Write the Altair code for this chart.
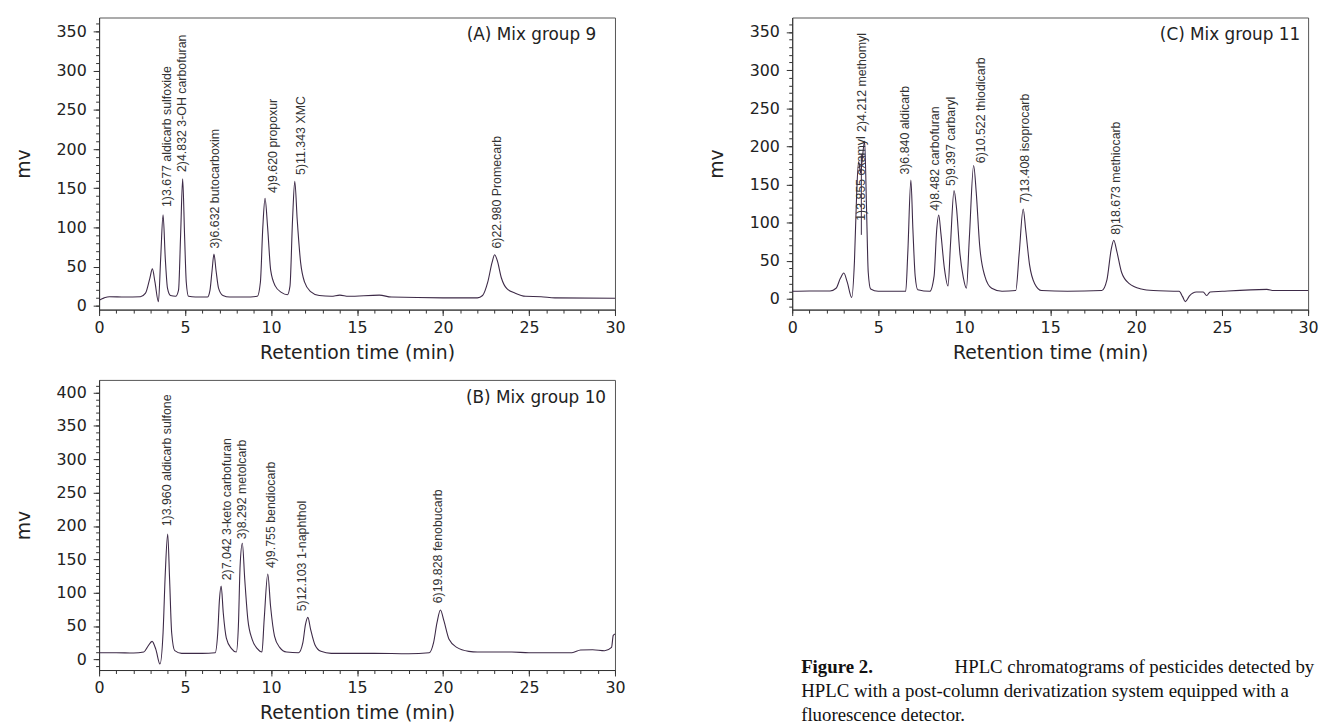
import altair as alt
import pandas as pd

# ---------------- data ----------------
# Panel A : Mix group 9
a_t = [0.0, 0.3, 0.6, 1.5, 2.4, 2.7, 2.95, 3.1, 3.25, 3.45, 3.58, 3.72, 3.85, 3.98, 4.15,
       4.45, 4.62, 4.74, 4.86, 4.97, 5.07, 5.2, 5.6, 6.3, 6.45, 6.57, 6.68, 6.8, 6.95, 7.2,
       7.6, 8.5, 9.2, 9.38, 9.52, 9.65, 9.8, 9.98, 10.25, 10.6, 10.95, 11.1, 11.25, 11.38,
       11.52, 11.72, 11.95, 12.3, 12.8, 13.5, 14.0, 14.5, 16.3, 17.0, 20.0, 22.0, 22.3, 22.6,
       22.85, 23.0, 23.15, 23.4, 23.7, 24.2, 24.8, 25.7, 26.5, 30.0]
a_mv = [7, 10, 11.5, 11, 11.5, 16, 35, 47, 30, 5, 60, 116, 60, 22, 13,
        12, 20, 90, 162, 90, 30, 12, 11, 11, 20, 45, 66, 45, 22, 13,
        11, 11, 12, 30, 100, 137, 100, 45, 25, 17, 14, 25, 110, 159,
        110, 55, 30, 18, 13, 12, 13.5, 12, 13.5, 11, 10, 10, 13, 30,
        55, 65, 58, 35, 22, 16, 12, 11.5, 10, 9.5]
a_labels = ["1)3.677 aldicarb sulfoxide", "2)4.832 3-OH carbofuran", "3)6.632 butocarboxim",
            "4)9.620 propoxur", "5)11.343 XMC", "6)22.980 Promecarb"]
a_label_t = [3.93, 4.85, 6.74, 10.13, 11.74, 23.15]
a_label_mv = [126, 170.7, 73, 144, 167, 73]

# Panel B : Mix group 10
b_t = [0, 1.0, 2.0, 2.6, 2.85, 3.08, 3.3, 3.54, 3.72, 3.85, 3.99, 4.1, 4.22, 4.4, 4.8,
       6.0, 6.75, 6.9, 7.0, 7.1, 7.22, 7.4, 7.7, 7.98, 8.1, 8.2, 8.33, 8.47, 8.65, 8.9,
       9.2, 9.47, 9.6, 9.81, 9.97, 10.2, 10.5, 10.9, 11.6, 11.85, 12.0, 12.14, 12.3, 12.55,
       12.9, 13.5, 16.0, 18.0, 19.2, 19.45, 19.65, 19.85, 20.05, 20.35, 20.8, 21.5, 22.0,
       24.0, 25.0, 27.5, 28.0, 28.7, 29.4, 29.8, 29.9, 30.0]
b_mv = [10, 10, 9.5, 11, 20, 27, 15, -7, 40, 130, 188, 120, 40, 13, 9,
        9, 10, 40, 90, 110, 70, 32, 16, 11, 50, 140, 174, 120, 60, 30,
        16, 11, 60, 128, 80, 35, 18, 11, 10, 25, 52, 63, 45, 22,
        12, 9, 9, 8.5, 10, 25, 55, 74, 58, 30, 18, 12, 11,
        11, 10, 10, 14, 14.5, 13, 18, 36, 38]
b_labels = ["1)3.960 aldicarb sulfone", "2)7.042 3-keto carbofuran", "3)8.292 metolcarb",
            "4)9.755 bendiocarb", "5)12.103 1-naphthol", "6)19.828 fenobucarb"]
b_label_t = [3.97, 7.45, 8.34, 10.0, 11.78, 19.72]
b_label_mv = [199.5, 118.6, 180, 136.8, 72, 84]

# Panel C : Mix group 11
c_t = [0, 1.0, 2.2, 2.55, 2.8, 3.0, 3.2, 3.46, 3.62, 3.75, 3.86, 3.98, 4.08, 4.21, 4.32,
       4.42, 4.56, 5.0, 6.6, 6.72, 6.9, 7.02, 7.15, 7.3, 8.0, 8.25, 8.4, 8.52, 8.65, 8.85,
       9.06, 9.2, 9.41, 9.55, 9.75, 9.95, 10.13, 10.3, 10.55, 10.7, 10.9, 11.2, 11.6, 12.2,
       13.0, 13.2, 13.43, 13.58, 13.8, 14.1, 14.5, 16.0, 18.0, 18.3, 18.55, 18.7, 18.88,
       19.15, 19.6, 20.3, 21.0, 22.5, 22.7, 22.86, 23.1, 23.5, 23.9, 24.1, 24.3, 25.0,
       27.6, 28.0, 30.0]
c_mv = [10, 10.5, 10.5, 14, 27, 34, 22, 2, 50, 140, 180, 165, 185, 207, 120,
        35, 13, 10, 10, 60, 156, 90, 30, 12, 10, 30, 90, 110, 85, 40,
        17, 70, 142, 120, 60, 28, 14, 80, 175, 140, 70, 30, 14, 10,
        11, 60, 118, 90, 45, 20, 11, 10, 11, 25, 65, 77, 62,
        35, 20, 13, 11, 10, 3, -3.5, 4, 9, 9, 4.4, 9, 10,
        12.5, 11, 11]
c_labels = ["1)3.855 oxamyl", "2)4.212 methomyl", "3)6.840 aldicarb", "4)8.482 carbofuran",
            "5)9.397 carbaryl", "6)10.522 thiodicarb", "7)13.408 isoprocarb", "8)18.673 methiocarb"]
c_label_t = [4.03, 4.05, 6.56, 8.33, 9.26, 11.0, 13.53, 18.84]
c_label_mv = [102.5, 219, 163, 115.5, 148, 178, 125, 84]
c_mark_t = [4.02]
c_mark_lo = [84]
c_mark_hi = [190]

panel_titles = ["(A) Mix group 9", "(B) Mix group 10", "(C) Mix group 11"]
x_title = "Retention time (min)"
y_title = "mv"
x_minor_ticks = list(range(0, 31))
x_major_ticks = list(range(0, 31, 5))
caption_bold = "Figure 2."
caption_lines = ["HPLC chromatograms of pesticides detected by",
                 "HPLC with a post-column derivatization system equipped with a",
                 "fluorescence detector."]

# ---------------- styling ----------------
AX_FONT = "DejaVu Sans"
LBL_FONT = "Liberation Sans"
LINE_COLOR = "#3d2a47"
AX_COLOR = "#333333"
TXT_COLOR = "#222222"
W = 521


def panel(t, mv, labels, lt, lmv, ydom, ymin, ymaj, title, title_right, h, mark=None):
    df = pd.DataFrame({"t": t, "mv": mv})
    lab = pd.DataFrame({"t": lt, "mv": lmv, "label": labels})
    xs = alt.Scale(domain=[0, 30], nice=False, zero=False)
    ys = alt.Scale(domain=ydom, nice=False, zero=False)
    # main axes: every minor tick, labels only on the major values
    x_axis = alt.Axis(values=x_minor_ticks, orient="bottom", grid=False, tickSize=3.5,
                      labelExpr="datum.value % 5 === 0 ? datum.label : ''",
                      labelOverlap=False, labelFlush=False,
                      tickColor=AX_COLOR, domainColor=AX_COLOR,
                      labelFont=AX_FONT, labelFontSize=16, labelColor=TXT_COLOR,
                      labelPadding=6.5,
                      title=x_title, titleFont=AX_FONT, titleFontSize=19,
                      titleFontWeight="normal", titleColor=TXT_COLOR, titlePadding=8)
    y_axis = alt.Axis(values=ymin, orient="left", grid=False, tickSize=3.5,
                      labelExpr="datum.value % 50 === 0 ? datum.label : ''",
                      labelOverlap=False, labelFlush=False,
                      tickColor=AX_COLOR, domainColor=AX_COLOR,
                      labelFont=AX_FONT, labelFontSize=16, labelColor=TXT_COLOR,
                      labelPadding=9.5,
                      title=y_title, titleFont=AX_FONT, titleFontSize=19,
                      titleFontWeight="normal", titleColor=TXT_COLOR, titlePadding=23)
    # second axes: longer major ticks only
    x_major = alt.Axis(values=x_major_ticks, orient="bottom", grid=False, tickSize=6,
                       tickColor=AX_COLOR, domain=False, labels=False, title=None)
    y_major = alt.Axis(values=ymaj, orient="left", grid=False, tickSize=6,
                       tickColor=AX_COLOR, domain=False, labels=False, title=None)
    line = alt.Chart(df).mark_line(color=LINE_COLOR, strokeWidth=1.1,
                                   interpolate="monotone").encode(
        x=alt.X("t:Q", scale=xs, axis=x_axis),
        y=alt.Y("mv:Q", scale=ys, axis=y_axis),
    )
    text = alt.Chart(lab).mark_text(angle=270, align="left", baseline="middle",
                                    font=LBL_FONT, fontSize=12.5, color="#333333").encode(
        x=alt.X("t:Q", scale=xs, axis=x_major),
        y=alt.Y("mv:Q", scale=ys, axis=y_major),
        text="label:N",
    )
    ttl = alt.Chart(pd.DataFrame({"s": [title]})).mark_text(
        align="right", baseline="middle", font=AX_FONT, fontSize=17, color=TXT_COLOR
    ).encode(x=alt.value(W - title_right), y=alt.value(18), text="s:N")
    layers = [line, text, ttl]
    if mark is not None:
        mdf = pd.DataFrame({"t": mark[0], "lo": mark[1], "hi": mark[2]})
        layers.append(alt.Chart(mdf).mark_rule(color=LINE_COLOR, strokeWidth=1).encode(
            x=alt.X("t:Q", scale=xs, axis=None),
            y=alt.Y("lo:Q", scale=ys, axis=None),
            y2="hi:Q"))
    return alt.layer(*layers).resolve_axis(x="independent", y="independent").properties(
        width=W, height=h)


pA = panel(a_t, a_mv, a_labels, a_label_t, a_label_mv, [-5, 368],
           list(range(0, 361, 10)), list(range(0, 351, 50)), panel_titles[0], 19, 295)
pB = panel(b_t, b_mv, b_labels, b_label_t, b_label_mv, [-16, 419],
           list(range(-10, 411, 10)), list(range(0, 401, 50)), panel_titles[1], 9, 293)
pC = panel(c_t, c_mv, c_labels, c_label_t, c_label_mv, [-14, 369],
           list(range(-10, 361, 10)), list(range(0, 351, 50)), panel_titles[2], 8, 295,
           mark=(c_mark_t, c_mark_lo, c_mark_hi))

cap_src = pd.DataFrame({"s": [caption_bold]})
cap_bold = alt.Chart(cap_src).mark_text(
    align="left", baseline="alphabetic", font="Liberation Serif", fontSize=19,
    fontWeight="bold", color="#111111").encode(
    x=alt.value(95), y=alt.value(296), text="s:N")
cap_layers = [cap_bold]
for i, line_txt in enumerate(caption_lines):
    cap_layers.append(alt.Chart(pd.DataFrame({"s": [line_txt]})).mark_text(
        align="left", baseline="alphabetic", font="Liberation Serif", fontSize=19,
        color="#111111").encode(
        x=alt.value(250 if i == 0 else 95), y=alt.value(296 + 24 * i), text="s:N"))
caption = alt.layer(*cap_layers).properties(
    width=520, height=300, view=alt.ViewBackground(stroke="transparent"))

top = alt.hconcat(pA, pC, spacing=81)
bottom = alt.hconcat(pB, caption, spacing=81)
chart = alt.vconcat(top, bottom, spacing=14).properties(
    padding={"left": 5, "top": 3, "right": 0, "bottom": 5}
).configure_view(stroke="#555555", strokeWidth=1)

chart.save("out.html", embed_options={"renderer": "svg", "actions": False})
